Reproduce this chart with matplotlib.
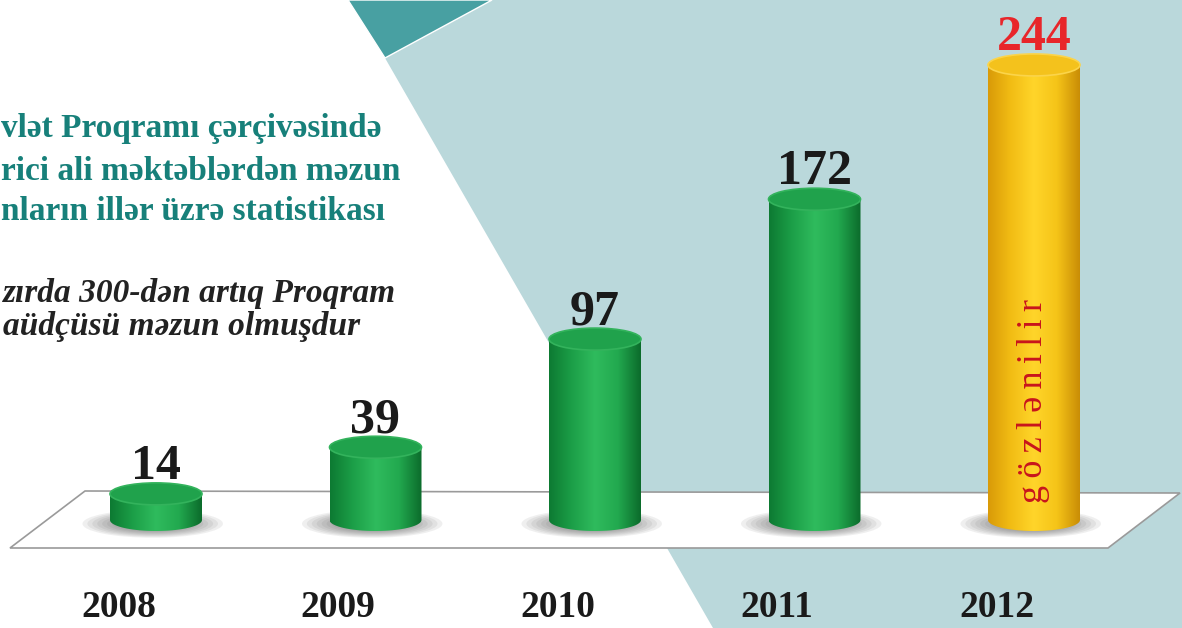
import numpy as np
import matplotlib.pyplot as plt
from matplotlib.patches import Polygon, Ellipse
from matplotlib.colors import LinearSegmentedColormap

# data
years = ["2008", "2009", "2010", "2011", "2012"]
graduates = [14, 39, 97, 172, 244]
expected = [False, False, False, False, True]

title_lines = ["vlət Proqramı çərçivəsində",
               "rici ali məktəblərdən məzun",
               "nların illər üzrə statistikası"]
note_lines = ["zırda 300-dən artıq Proqram",
              "aüdçüsü məzun olmuşdur"]
expected_label = "gözlənilir"

SERIF = ["Liberation Serif", "DejaVu Serif"]
W, H = 1182, 628

fig = plt.figure(figsize=(W / 100, H / 100), dpi=100)
fig.patch.set_facecolor("white")

# background decoration in pixel coordinates
bg = fig.add_axes([0, 0, 1, 1])
bg.set_xlim(0, W)
bg.set_ylim(H, 0)
bg.axis("off")
bg.add_patch(Polygon([(490, 0), (W, 0), (W, H), (713, H), (385, 58)],
                     closed=True, facecolor="#bad8db", edgecolor="none"))
bg.add_patch(Polygon([(348, 0), (492, 0), (385, 58)], closed=True,
                     facecolor="#48a0a2", edgecolor="white", linewidth=1))
# platform
bg.add_patch(Polygon([(85, 491), (1180, 493), (1108, 548), (10, 548)], closed=True,
                     facecolor="white", edgecolor="#9a9a9a", linewidth=1.2))

for i, line in enumerate(title_lines):
    bg.text(1, [137, 180, 220][i], line, ha="left", va="baseline",
            fontsize=24, fontweight="bold", color="#17807a", family=SERIF)
for i, line in enumerate(note_lines):
    bg.text([396, 360][i], [302, 335][i], line, ha="right", va="baseline",
            fontsize=24, fontstyle="italic", fontweight="bold", color="#222222", family=SERIF)

# data axes: index 0 -> x=156px, step 219.5px; value 0 -> y=520px, 1.865 px/unit
step, px_unit = 219.5, 1.865
ymin, ymax = -60, 280
left = 156 - 0.5 * step
ax = fig.add_axes([left / W, (H - 520 + ymin * px_unit) / H, 5 * step / W,
                   (ymax - ymin) * px_unit / H])
ax.axis("off")

w = 92 / step
eh = 22 / px_unit

green = LinearSegmentedColormap.from_list("g", ["#0d7a32", "#1c9f48", "#2fbb5d", "#22a94f", "#0b6b2b"])
yellow = LinearSegmentedColormap.from_list("y", ["#d99a08", "#f2bd14", "#ffd52a", "#f5c418", "#c98d06"])

for i, (v, exp) in enumerate(zip(graduates, expected)):
    # soft shadow on the platform
    for k in range(10):
        s = 1 - k * 0.07
        ax.add_patch(Ellipse((i - 0.015, -2), 0.64 * s, 15 * s, facecolor="#505050",
                             edgecolor="none", alpha=0.085, zorder=2))
    cmap = yellow if exp else green
    t = np.linspace(np.pi, 2 * np.pi, 40)
    verts = list(zip(i + w / 2 * np.cos(t), eh / 2 * np.sin(t))) + [(i + w / 2, v), (i - w / 2, v)]
    body = Polygon(verts, closed=True, facecolor="none", edgecolor="none")
    ax.add_patch(body)
    img = ax.imshow(np.linspace(0, 1, 256)[None, :], cmap=cmap, aspect="auto",
                    extent=(i - w / 2, i + w / 2, -eh / 2, v), zorder=3, interpolation="bicubic")
    img.set_clip_path(body)
    top = "#f4c21c" if exp else "#20a24c"
    rim = "#fbd44a" if exp else "#33b35c"
    ax.add_patch(Ellipse((i, v), w, eh, facecolor=top, edgecolor=rim, linewidth=1.2, zorder=4))
    ax.text(i, v + 8, str(v), ha="center", va="baseline", fontsize=36, fontweight="bold",
            color="#e8262a" if exp else "#1a1a1a", family=SERIF, zorder=5)
    ax.text(i - 0.17, -52, years[i], ha="center", va="baseline", fontsize=27,
            fontweight="bold", color="#1a1a1a", family=SERIF)
    if exp:
        ax.text(i, 64, "\u2009".join(expected_label), rotation=90, ha="center", va="center",
                fontsize=26, color="#c8141c", family=SERIF, zorder=5)

ax.set_xlim(-0.5, 4.5)
ax.set_ylim(ymin, ymax)
fig.savefig("out.png", dpi=100)
